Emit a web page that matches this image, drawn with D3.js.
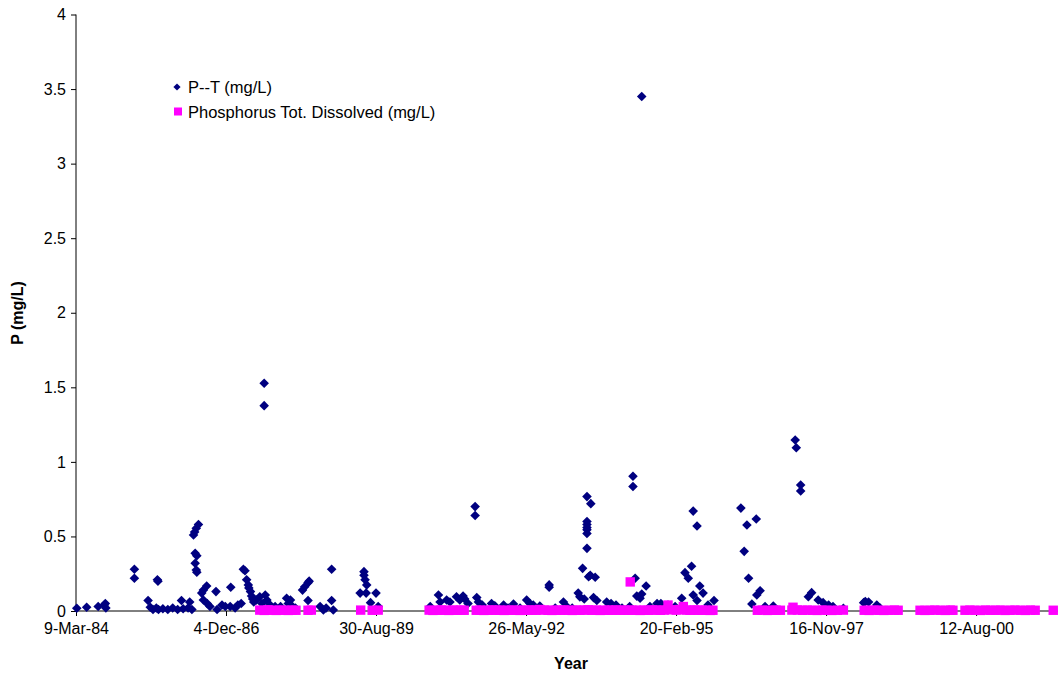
<!DOCTYPE html>
<html>
<head>
<meta charset="utf-8">
<script src="https://cdn.jsdelivr.net/npm/d3@7"></script>
<style>
  html, body { margin: 0; padding: 0; background: #fff; }
  svg { display: block; font-family: Arial, "Liberation Sans", sans-serif; }
</style>
</head>
<body>
<svg id="chart" width="1059" height="675"></svg>
<script>
// ---------- DATA (dates as decimal years, values in mg/L) ----------
const seriesNames = ["P--T (mg/L)", "Phosphorus Tot. Dissolved (mg/L)"];

const ptYears = [
  1984.20,1984.38,1984.59,1984.70,1984.72,1984.73,1985.25,1985.25,1985.50,1985.54,
  1985.59,1985.65,1985.69,1985.67,1985.68,1985.77,1985.86,1985.95,1986.04,1986.11,
  1986.14,1986.23,1986.26,1986.30,1986.33,1986.35,1986.38,1986.42,1986.36,1986.39,
  1986.36,1986.38,1986.39,1986.48,1986.51,1986.57,1986.51,1986.58,1986.63,1986.74,
  1986.76,1986.85,1986.91,1987.01,1987.00,1987.09,1987.14,1987.20,1987.24,1987.27,
  1987.30,1987.33,1987.34,1987.37,1987.39,1987.41,1987.43,1987.48,1987.54,1987.62,
  1987.62,1987.64,1987.67,1987.58,1987.73,1987.82,1987.92,1988.03,1988.06,1988.10,
  1988.11,1988.19,1988.32,1988.36,1988.42,1988.44,1988.42,1988.64,1988.70,1988.75,
  1988.85,1988.85,1988.88,1989.37,1989.44,1989.44,1989.46,1989.49,1989.48,1989.56,
  1989.66,1989.70,1990.65,1990.80,1990.83,1990.95,1991.01,1991.13,1991.19,1991.25,
  1991.28,1991.34,1991.47,1991.47,1991.50,1991.53,1991.60,1991.77,1991.83,1991.99,
  1992.07,1992.17,1992.29,1992.41,1992.47,1992.53,1992.65,1992.82,1992.82,1992.93,
  1993.08,1993.14,1993.24,1993.35,1993.38,1993.43,1993.51,1993.58,1993.51,1993.51,
  1993.51,1993.51,1993.51,1993.51,1993.54,1993.57,1993.66,1993.63,1993.69,1993.46,
  1993.87,1993.95,1994.04,1994.15,1994.29,1994.35,1994.35,1994.39,1994.42,1994.51,
  1994.51,1994.48,1994.59,1994.66,1994.79,1994.86,1994.99,1995.12,1995.24,1995.30,
  1995.36,1995.42,1995.45,1995.52,1995.45,1995.52,1995.57,1995.63,1995.72,1995.83,
  1996.32,1996.43,1996.60,1996.38,1996.46,1996.52,1996.61,1996.67,1996.76,1996.91,
  1997.31,1997.33,1997.41,1997.41,1997.55,1997.61,1997.73,1997.82,1997.92,1998.00,
  1998.19,1998.56,1998.59,1998.65,1998.80,1998.86
];
const ptValues = [
  0.018,0.025,0.03,0.04,0.05,0.02,0.28,0.22,0.07,0.025,
  0.01,0.02,0.01,0.21,0.20,0.015,0.01,0.02,0.01,0.07,
  0.015,0.02,0.06,0.01,0.51,0.53,0.555,0.58,0.387,0.37,
  0.32,0.275,0.26,0.12,0.14,0.168,0.074,0.05,0.03,0.13,
  0.01,0.04,0.03,0.159,0.03,0.02,0.04,0.05,0.28,0.27,
  0.21,0.175,0.155,0.13,0.10,0.08,0.06,0.074,0.096,1.527,
  1.377,0.107,0.074,0.05,0.04,0.03,0.03,0.085,0.05,0.074,
  0.04,0.02,0.14,0.163,0.19,0.20,0.07,0.03,0.007,0.02,
  0.28,0.07,0.007,0.12,0.264,0.24,0.21,0.175,0.12,0.056,
  0.12,0.03,0.03,0.107,0.06,0.074,0.06,0.096,0.074,0.10,
  0.08,0.05,0.70,0.64,0.09,0.06,0.04,0.05,0.035,0.04,
  0.02,0.047,0.02,0.074,0.05,0.04,0.034,0.175,0.16,0.02,
  0.06,0.03,0.02,0.12,0.095,0.286,0.767,0.72,0.60,0.58,
  0.56,0.545,0.52,0.42,0.23,0.24,0.226,0.09,0.07,0.08,
  0.06,0.05,0.04,0.02,0.03,0.904,0.835,0.22,0.10,0.114,
  3.45,0.085,0.168,0.03,0.05,0.05,0.04,0.03,0.085,0.257,
  0.22,0.30,0.67,0.57,0.107,0.07,0.168,0.12,0.04,0.07,
  0.69,0.577,0.617,0.40,0.22,0.047,0.107,0.136,0.03,0.034,
  1.147,1.095,0.845,0.805,0.096,0.123,0.074,0.056,0.04,0.03,
  0.018,0.056,0.063,0.06,0.04,0.02
];

const tdYears = [
  1987.54,1987.62,1987.69,1987.76,1987.84,1987.91,1987.98,1988.06,1988.13,1988.20,
  1988.42,1988.48,1989.38,1989.59,1989.70,
  1990.63,1990.70,1990.78,1990.85,1990.92,1990.99,1991.07,1991.14,1991.21,1991.27,
  1991.49,1991.56,1991.63,1991.71,1991.78,1991.85,1991.92,1992.00,1992.07,1992.14,
  1992.22,1992.29,1992.36,1992.44,1992.51,1992.58,1992.65,1992.73,1992.80,1992.87,
  1992.95,1993.02,1993.09,1993.17,1993.24,1993.31,1993.38,1993.46,1993.53,1993.60,
  1993.68,1993.75,1993.82,1993.90,1993.97,1994.04,1994.12,1994.19,1994.26,1994.30,
  1994.33,1994.41,1994.48,1994.55,1994.63,1994.70,1994.77,1994.85,1994.92,1994.99,
  1995.06,1995.14,1995.21,1995.27,1995.32,1995.39,1995.47,1995.54,1995.61,1995.68,
  1995.76,1995.81,
  1996.62,1996.71,1996.80,1996.89,1996.96,1997.04,
  1997.25,1997.27,1997.35,1997.44,1997.53,1997.62,1997.71,1997.80,1997.89,1997.98,
  1998.08,1998.19,
  1998.57,1998.66,1998.75,1998.84,1998.93,1999.02,1999.12,1999.19,
  1999.59,1999.68,1999.77,1999.86,1999.96,2000.05,2000.14,2000.19,
  2000.41,2000.50,2000.59,2000.69,2000.78,2000.87,2000.96,2001.05,2001.14,2001.23,
  2001.32,2001.42,2001.51,2001.60,2001.69,
  2002.02
];
const tdValues = [
  0.006,0.004,0.008,0.005,0.004,0.006,0.005,0.004,0.006,0.005,
  0.005,0.006,0.006,0.005,0.006,
  0.006,0.004,0.005,0.007,0.005,0.004,0.006,0.005,0.006,0.005,
  0.005,0.006,0.004,0.005,0.007,0.005,0.006,0.004,0.005,0.006,
  0.005,0.004,0.006,0.005,0.007,0.005,0.01,0.006,0.005,0.004,
  0.006,0.005,0.007,0.005,0.004,0.006,0.005,0.006,0.008,0.005,
  0.006,0.004,0.005,0.006,0.005,0.007,0.005,0.006,0.005,0.195,
  0.006,0.005,0.004,0.006,0.005,0.007,0.006,0.005,0.006,0.04,
  0.008,0.006,0.01,0.03,0.006,0.005,0.007,0.005,0.006,0.005,
  0.004,0.005,
  0.005,0.006,0.004,0.005,0.006,0.005,
  0.006,0.025,0.007,0.005,0.006,0.005,0.004,0.006,0.005,0.004,
  0.005,0.006,
  0.005,0.004,0.006,0.005,0.004,0.005,0.006,0.005,
  0.005,0.004,0.005,0.006,0.005,0.004,0.006,0.005,
  0.005,0.006,0.005,0.004,0.006,0.005,0.005,0.006,0.004,0.005,
  0.006,0.005,0.004,0.006,0.005,
  0.005
];

const xTickLabels = ["9-Mar-84","4-Dec-86","30-Aug-89","26-May-92","20-Feb-95","16-Nov-97","12-Aug-00"];
const xAxisEnd = "9-Feb-02";
const yTicks = [0, 0.5, 1, 1.5, 2, 2.5, 3, 3.5, 4];
const axisTitles = { x: "Year", y: "P (mg/L)" };
const colors = ["#000080", "#FF00FF"];

// ---------- HELPERS ----------
const parseLabel = d3.utcParse("%-d-%b-%y");
function yearToDate(y) {
  const Y = Math.floor(y);
  const s = Date.UTC(Y, 0, 1), e = Date.UTC(Y + 1, 0, 1);
  return new Date(s + (y - Y) * (e - s));
}

// ---------- LAYOUT ----------
const svg = d3.select("#chart");
const plot = { left: 76, right: 1058, top: 14.5, bottom: 611 };

const x = d3.scaleUtc()
  .domain([parseLabel(xTickLabels[0]), parseLabel(xAxisEnd)])
  .range([plot.left, plot.right]);
const y = d3.scaleLinear().domain([0, 4]).range([plot.bottom, plot.top]);

// Y axis
const yAxis = svg.append("g")
  .attr("transform", `translate(${plot.left},0)`)
  .call(d3.axisLeft(y).tickValues(yTicks).tickSize(5).tickPadding(5)
    .tickFormat(d => String(d)));
yAxis.select(".domain").attr("stroke", "#000").attr("d", `M0,${plot.top}V${plot.bottom}`);
yAxis.selectAll(".tick line").attr("stroke", "#000");
yAxis.selectAll(".tick text").attr("font-size", 16).attr("fill", "#000")
  .attr("font-family", "Arial, 'Liberation Sans', sans-serif");

// X axis
const xTickDates = xTickLabels.map(parseLabel);
const xAxis = svg.append("g")
  .attr("transform", `translate(0,${plot.bottom})`)
  .call(d3.axisBottom(x).tickValues(xTickDates).tickSize(5).tickPadding(7)
    .tickFormat((d, i) => xTickLabels[i]));
xAxis.select(".domain").attr("stroke", "#000").attr("d", `M${plot.left},0H${plot.right}`);
xAxis.selectAll(".tick line").attr("stroke", "#000");
xAxis.selectAll(".tick text").attr("font-size", 16).attr("fill", "#000")
  .attr("font-family", "Arial, 'Liberation Sans', sans-serif");

// Axis titles
svg.append("text")
  .attr("x", 571).attr("y", 669)
  .attr("text-anchor", "middle").attr("font-size", 16).attr("font-weight", "bold")
  .text(axisTitles.x);
svg.append("text")
  .attr("transform", `translate(23,313) rotate(-90)`)
  .attr("text-anchor", "middle").attr("font-size", 16).attr("font-weight", "bold")
  .text(axisTitles.y);

// ---------- MARKS ----------
const diamond = r => `M0,${-r}L${r},0L0,${r}L${-r},0Z`;

const ptData = ptYears.map((yr, i) => ({ date: yearToDate(yr), value: ptValues[i] }));
const tdData = tdYears.map((yr, i) => ({ date: yearToDate(yr), value: tdValues[i] }));

svg.append("g").selectAll("path")
  .data(ptData).join("path")
  .attr("d", diamond(4.8))
  .attr("transform", d => `translate(${x(d.date)},${y(d.value)})`)
  .attr("fill", colors[0]);

const sq = 9.4;
svg.append("g").selectAll("rect")
  .data(tdData).join("rect")
  .attr("x", d => x(d.date) - sq / 2)
  .attr("y", d => y(d.value) - sq / 2)
  .attr("width", sq).attr("height", sq)
  .attr("fill", colors[1]);

// ---------- LEGEND ----------
const legend = svg.append("g");
legend.append("path").attr("d", diamond(3.6))
  .attr("transform", "translate(177,87)").attr("fill", colors[0]);
legend.append("text").attr("x", 188).attr("y", 92.5)
  .attr("font-size", 16.5).text(seriesNames[0]);
legend.append("rect").attr("x", 174).attr("y", 107.5).attr("width", 8).attr("height", 8)
  .attr("fill", colors[1]);
legend.append("text").attr("x", 188).attr("y", 117.5)
  .attr("font-size", 16.5).text(seriesNames[1]);
</script>
</body>
</html>
